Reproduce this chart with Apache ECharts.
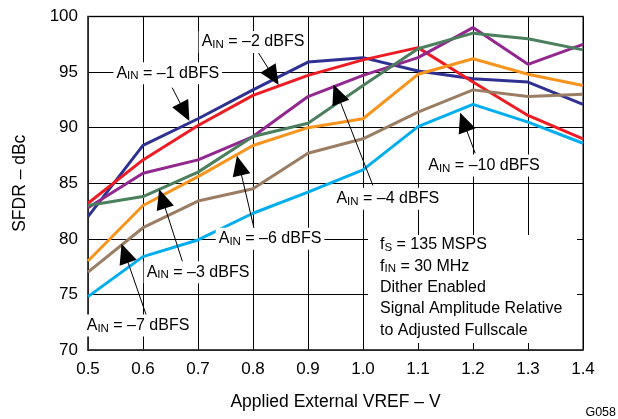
<!DOCTYPE html>
<html>
<head>
<meta charset="utf-8">
<script src="https://cdn.jsdelivr.net/npm/echarts@6/dist/echarts.min.js"></script>
<style>
html,body{margin:0;background:#fff;}
#chart{width:618px;height:419px;}
</style>
</head>
<body>
<div id="chart"></div>
<script>
// data
var vref = [0.5, 0.6, 0.7, 0.8, 0.9, 1.0, 1.1, 1.2, 1.3, 1.4];
var ain1  = [82.0, 88.4, 90.8, 93.4, 95.9, 96.3, 95.1, 94.4, 94.1, 92.1];
var ain2  = [83.2, 87.1, 90.2, 92.9, 94.7, 96.1, 97.2, 94.1, 91.1, 89.0];
var ain4  = [82.8, 85.9, 87.1, 89.2, 92.8, 94.7, 96.3, 99.0, 95.7, 97.5];
var ain3  = [83.0, 83.8, 86.0, 89.2, 90.4, 93.8, 97.1, 98.5, 98.0, 97.0];
var ain6  = [78.0, 83.0, 85.6, 88.4, 90.0, 90.8, 94.8, 96.2, 94.8, 93.8];
var ain7  = [77.0, 81.0, 83.4, 84.5, 87.7, 89.0, 91.4, 93.4, 92.8, 93.0];
var ain10 = [74.8, 78.4, 79.9, 82.3, 84.2, 86.2, 90.1, 92.1, 90.5, 88.6];

var yTicks = [70, 75, 80, 85, 90, 95, 100];

// annotation labels: text, label centre, arrow tail, arrow head (data coords)
var notes = [
  {t: '–1', at: [0.645, 94.9], from: [0.653, 93.6], to: [0.676, 91.4]},
  {t: '–2', at: [0.80, 97.7],  from: [0.809, 96.8], to: [0.837, 94.6]},
  {t: '–4', at: [1.045, 83.6], from: [1.018, 84.8], to: [0.953, 93.05]},
  {t: '–10', at: [1.22, 86.6], from: [1.204, 87.7], to: [1.183, 90.5]},
  {t: '–6', at: [0.831, 80.0], from: [0.804, 80.5], to: [0.775, 86.6]},
  {t: '–3', at: [0.70, 77.0],  from: [0.676, 77.3], to: [0.635, 83.6]},
  {t: '–7', at: [0.591, 72.2], from: [0.609, 72.7], to: [0.567, 78.7]}
];

var font = '"Liberation Sans", Arial, sans-serif';

function pairs(arr){
  return vref.map(function(x, i){ return [x, arr[i]]; });
}

function line(name, arr, color){
  return {
    name: name, type: 'line', data: pairs(arr), z: 3,
    symbol: 'none', silent: true,
    lineStyle: {color: color, width: 3},
    itemStyle: {color: color}
  };
}

var chart = echarts.init(document.getElementById('chart'));

var option = {
  animation: false,
  backgroundColor: '#fff',
  textStyle: {fontFamily: font},
  grid: {left: 88, right: 35, top: 16.5, bottom: 69, show: true, borderColor: '#555', borderWidth: 1.5},
  xAxis: {
    type: 'value', min: 0.5, max: 1.4, interval: 0.1,
    name: 'Applied External VREF – V', nameLocation: 'middle', nameGap: 43,
    nameTextStyle: {color: '#000', fontSize: 17.5, fontFamily: font},
    axisLine: {lineStyle: {color: '#333', width: 1.5}},
    axisTick: {show: false},
    axisLabel: {color: '#000', fontSize: 17, margin: 11, fontFamily: font,
      formatter: function(v){ return v.toFixed(1); }},
    splitLine: {lineStyle: {color: '#000', width: 1}}
  },
  yAxis: {
    type: 'value', min: yTicks[0], max: yTicks[yTicks.length - 1], interval: 5,
    name: 'SFDR – dBc', nameLocation: 'middle', nameGap: 59,
    nameTextStyle: {color: '#000', fontSize: 17.5, fontFamily: font},
    axisLine: {lineStyle: {color: '#333', width: 1.5}},
    axisTick: {show: false},
    axisLabel: {color: '#000', fontSize: 17, margin: 10, fontFamily: font},
    splitLine: {lineStyle: {color: '#000', width: 1}}
  },
  series: [
    {
      name: 'notes', type: 'line', data: [], z: 1, silent: true,
      markPoint: {
        symbol: 'rect', symbolSize: 0, silent: true,
        label: {
          show: true, position: 'inside', backgroundColor: '#fff', padding: [1, 3],
          color: '#000', fontFamily: font,
          rich: {
            a: {fontSize: 16, fontFamily: font, color: '#000', verticalAlign: 'middle', lineHeight: 20},
            s: {fontSize: 11.5, fontFamily: font, color: '#000', verticalAlign: 'middle', lineHeight: 20, padding: [6, 0, 0, 0]}
          }
        },
        data: notes.map(function(n){
          return {coord: n.at, label: {formatter: '{a|A}{s|IN}{a| = ' + n.t + ' dBFS}'}};
        })
      },
      markLine: {
        silent: true, symbol: ['none', 'triangle'], symbolSize: [18, 20],
        lineStyle: {color: '#000', width: 1, type: 'solid'},
        itemStyle: {color: '#000'},
        label: {show: false},
        data: notes.map(function(n){
          return [{coord: n.from}, {coord: n.to}];
        })
      }
    },
    line('A_IN = –1 dBFS', ain1, '#2e3192'),
    line('A_IN = –2 dBFS', ain2, '#ed1c24'),
    line('A_IN = –4 dBFS', ain4, '#92278f'),
    line('A_IN = –3 dBFS', ain3, '#4b7f5e'),
    line('A_IN = –6 dBFS', ain6, '#f7941d'),
    line('A_IN = –7 dBFS', ain7, '#9a7d63'),
    line('A_IN = –10 dBFS', ain10, '#00aeef')
  ],
  graphic: [
    {type: 'rect', left: 368, top: 235, shape: {width: 209, height: 108}, style: {fill: '#fff'}, z: 5},
    {
      type: 'text', left: 380, top: 236, z: 6,
      style: {
        text: '{a|f}{s|S}{a| = 135 MSPS}\n{a|f}{s|IN}{a| = 30 MHz}\n{a|Dither Enabled}\n{a|Signal Amplitude Relative}\n{a|to Adjusted Fullscale}',
        fill: '#000', font: '16px ' + font,
        rich: {
          a: {fontSize: 16, fontFamily: font, fill: '#000', lineHeight: 21.3, verticalAlign: 'middle'},
          s: {fontSize: 11.5, fontFamily: font, fill: '#000', lineHeight: 21.3, verticalAlign: 'middle', padding: [6, 0, 0, 0]}
        }
      }
    },
    {type: 'text', right: 2, top: 406, style: {text: 'G058', fill: '#000', font: '12.5px ' + font}}
  ]
};

chart.setOption(option);
</script>
</body>
</html>
